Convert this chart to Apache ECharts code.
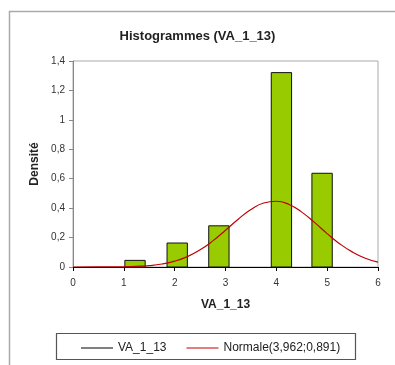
<!DOCTYPE html>
<html>
<head>
<meta charset="utf-8">
<script src="https://cdn.jsdelivr.net/npm/echarts@6/dist/echarts.min.js"></script>
<style>
html,body{margin:0;padding:0;background:#fff;}
#main{width:395px;height:365px;}
</style>
</head>
<body>
<div id="main"></div>
<script>
// histogram bins (class bounds) and densities
var binStart = [1.02, 1.85, 2.67, 3.9, 4.7];
var binEnd = [1.42, 2.25, 3.07, 4.3, 5.1];
var density = [0.045, 0.163, 0.28, 1.321, 0.637];

// normal curve
var normX = [0, 0.5, 1, 1.25, 1.5, 1.75, 2, 2.25, 2.5, 2.75, 3, 3.25, 3.5, 3.75, 4, 4.25, 4.5, 4.75, 5, 5.25, 5.5, 5.75, 6];
var normY = [0, 0.0002, 0.0018, 0.0044, 0.0098, 0.0205, 0.0397, 0.0707, 0.1165, 0.1775, 0.250, 0.325, 0.391, 0.435, 0.447, 0.425, 0.373, 0.303, 0.227, 0.157, 0.101, 0.0598, 0.0327];

var bars = [];
for (var i = 0; i < density.length; i++) {
	bars.push([binStart[i], binEnd[i], density[i]]);
}
var curve = [];
for (var j = 0; j < normX.length; j++) {
	curve.push([normX[j], normY[j]]);
}

var font = 'Liberation Sans';
var red = '#c00000';
var myChart = echarts.init(document.getElementById('main'));
var option = {
	animation: false,
	textStyle: {fontFamily: font},
	title: {
		text: 'Histogrammes (VA_1_13)',
		left: 'center',
		top: 25,
		textStyle: {fontSize: 13, fontWeight: 'bold', color: '#222', fontFamily: font}
	},
	graphic: [
		{type: 'rect', left: 7, top: 9, shape: {width: 400, height: 400}, style: {fill: 'none', stroke: '#aaa', lineWidth: 1.5}},
		{type: 'rect', left: 54, top: 331, shape: {width: 299, height: 26}, style: {fill: 'none', stroke: '#555', lineWidth: 1.2}}
	],
	legend: {
		left: 76,
		top: 337,
		itemWidth: 32,
		itemHeight: 1,
		itemGap: 20,
		textStyle: {fontSize: 12, color: '#222', fontFamily: font},
		data: [
			{name: 'VA_1_13', icon: 'rect', itemStyle: {color: '#000', borderWidth: 0}, lineStyle: {color: '#000'}},
			{name: 'Normale(3,962;0,891)', icon: 'rect', itemStyle: {color: red, borderWidth: 0}, lineStyle: {color: red}}
		]
	},
	grid: {
		left: 73, right: 17, top: 61, bottom: 98,
		show: true, borderColor: '#aaa', borderWidth: 1
	},
	xAxis: {
		type: 'value', min: 0, max: 6, interval: 1,
		name: 'VA_1_13', nameLocation: 'middle', nameGap: 32,
		nameTextStyle: {fontSize: 12, fontWeight: 'bold', color: '#222'},
		axisLine: {lineStyle: {color: '#000', width: 1}},
		axisTick: {show: true, length: 4, lineStyle: {color: '#000'}},
		axisLabel: {fontSize: 10, color: '#333', margin: 11},
		splitLine: {show: false}
	},
	yAxis: {
		type: 'value', min: 0, max: 1.4, interval: 0.2,
		name: 'Densité', nameLocation: 'middle', nameGap: 32, nameRotate: 90,
		nameTextStyle: {fontSize: 12, fontWeight: 'bold', color: '#222'},
		axisLine: {show: true, lineStyle: {color: '#888', width: 1}},
		axisTick: {show: true, length: 4, lineStyle: {color: '#888'}},
		axisLabel: {fontSize: 10, color: '#333', margin: 8, formatter: function (v) { return String(Math.round(v * 10) / 10).replace('.', ','); }},
		splitLine: {show: false}
	},
	series: [
		{
			name: 'VA_1_13',
			type: 'custom',
			data: bars,
			encode: {x: [0, 1], y: 2},
			itemStyle: {color: '#000'},
			renderItem: function (params, api) {
				var p0 = api.coord([api.value(0), api.value(2)]);
				var p1 = api.coord([api.value(1), 0]);
				return {
					type: 'rect',
					shape: {x: p0[0], y: p0[1], width: p1[0] - p0[0], height: p1[1] - p0[1]},
					style: {fill: '#99cc00', stroke: '#111', lineWidth: 1}
				};
			}
		},
		{
			name: 'Normale(3,962;0,891)',
			type: 'line',
			data: curve,
			smooth: true,
			symbol: 'none',
			itemStyle: {color: red},
			lineStyle: {color: red, width: 1.2},
			z: 5
		}
	]
};
myChart.setOption(option);
</script>
</body>
</html>
